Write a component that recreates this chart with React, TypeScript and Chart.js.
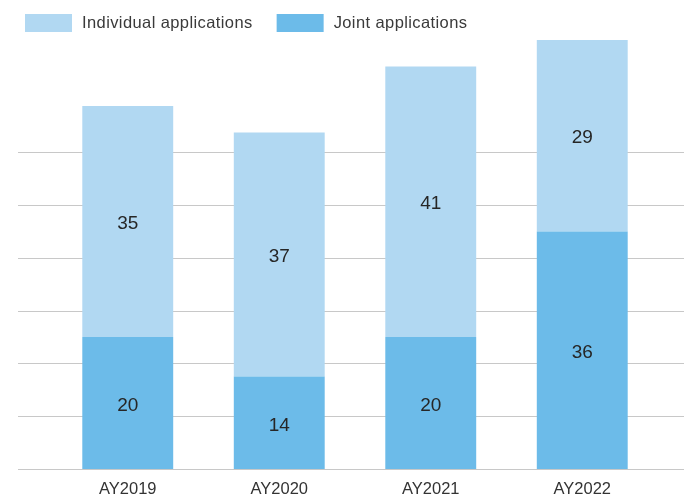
import React, { useEffect, useRef } from 'react';
import { Chart, registerables } from 'chart.js';

Chart.register(...registerables);

const categories = ['AY2019', 'AY2020', 'AY2021', 'AY2022'];
const jointApplications = [20, 14, 20, 36];
const individualApplications = [35, 37, 41, 29];
const gridValues = [0, 8, 16, 24, 32, 40, 48];
const seriesLabels = { individual: 'Individual applications', joint: 'Joint applications' };

const FONT = '"Liberation Sans", Arial, Helvetica, sans-serif';
const LIGHT = '#B1D8F2';
const DARK = '#6CBBE9';

const gridPlugin = {
  id: 'extendedGrid',
  beforeDatasetsDraw(chart: any) {
    const { ctx } = chart;
    const y = chart.scales.y;
    ctx.save();
    ctx.strokeStyle = '#c8c8c8';
    ctx.lineWidth = 1;
    for (const v of gridValues) {
      const py = Math.round(y.getPixelForValue(v)) + 0.5;
      ctx.beginPath();
      ctx.moveTo(18, py);
      ctx.lineTo(chart.width, py);
      ctx.stroke();
    }
    ctx.restore();
  },
};

const valueLabelPlugin = {
  id: 'valueLabels',
  afterDatasetsDraw(chart: any) {
    const { ctx } = chart;
    ctx.save();
    ctx.font = `19px ${FONT}`;
    ctx.fillStyle = '#262626';
    ctx.textAlign = 'center';
    ctx.textBaseline = 'middle';
    chart.data.datasets.forEach((ds: any, i: number) => {
      const meta = chart.getDatasetMeta(i);
      meta.data.forEach((bar: any, j: number) => {
        const { x, y, base } = bar.getProps(['x', 'y', 'base'], true);
        ctx.fillText(String(ds.data[j]), x, (y + base) / 2 + 2.5);
      });
    });
    ctx.restore();
  },
};

const legendPlugin = {
  id: 'customLegend',
  afterDraw(chart: any) {
    const { ctx } = chart;
    const order = [1, 0];
    ctx.save();
    ctx.font = `16.5px ${FONT}`;
    try { (ctx as any).letterSpacing = '0.4px'; } catch (e) {}
    ctx.textBaseline = 'middle';
    ctx.textAlign = 'left';
    let x = 25;
    const top = 14;
    const bw = 47;
    const bh = 18;
    order.forEach((idx) => {
      const ds = chart.data.datasets[idx];
      ctx.fillStyle = ds.backgroundColor;
      ctx.fillRect(x, top, bw, bh);
      ctx.fillStyle = '#3a3a3a';
      const tx = x + bw + 10;
      ctx.fillText(ds.label, tx, top + bh / 2 + 0.5);
      x = tx + ctx.measureText(ds.label).width + 24;
    });
    ctx.restore();
  },
};

export default function App() {
  const ref = useRef<HTMLCanvasElement | null>(null);

  useEffect(() => {
    if (!ref.current) return;
    const chart = new Chart(ref.current, {
      type: 'bar',
      data: {
        labels: categories,
        datasets: [
          {
            label: seriesLabels.joint,
            data: jointApplications,
            backgroundColor: DARK,
            borderWidth: 0,
          },
          {
            label: seriesLabels.individual,
            data: individualApplications,
            backgroundColor: LIGHT,
            borderWidth: 0,
          },
        ],
      },
      options: {
        responsive: true,
        maintainAspectRatio: false,
        animation: false,
        layout: { padding: { left: 52, right: 26, top: 40, bottom: 0 } },
        datasets: { bar: { barPercentage: 0.6, categoryPercentage: 1 } },
        plugins: {
          legend: { display: false },
          tooltip: { enabled: false },
        },
        scales: {
          x: {
            stacked: true,
            grid: { display: false, drawTicks: false, tickLength: 0 },
            border: { display: false },
            ticks: { color: '#333333', font: { family: FONT, size: 16.5 }, padding: 11 },
            afterFit(scale: any) {
              scale.height = 29;
            },
          },
          y: {
            stacked: true,
            display: false,
            min: 0,
            max: 65,
          },
        },
      } as any,
      plugins: [gridPlugin, valueLabelPlugin, legendPlugin],
    });
    return () => chart.destroy();
  }, []);

  return (
    <div style={{ position: 'absolute', left: 0, top: 0, width: 684, height: 498, background: '#fff' }}>
      <canvas ref={ref} />
    </div>
  );
}
